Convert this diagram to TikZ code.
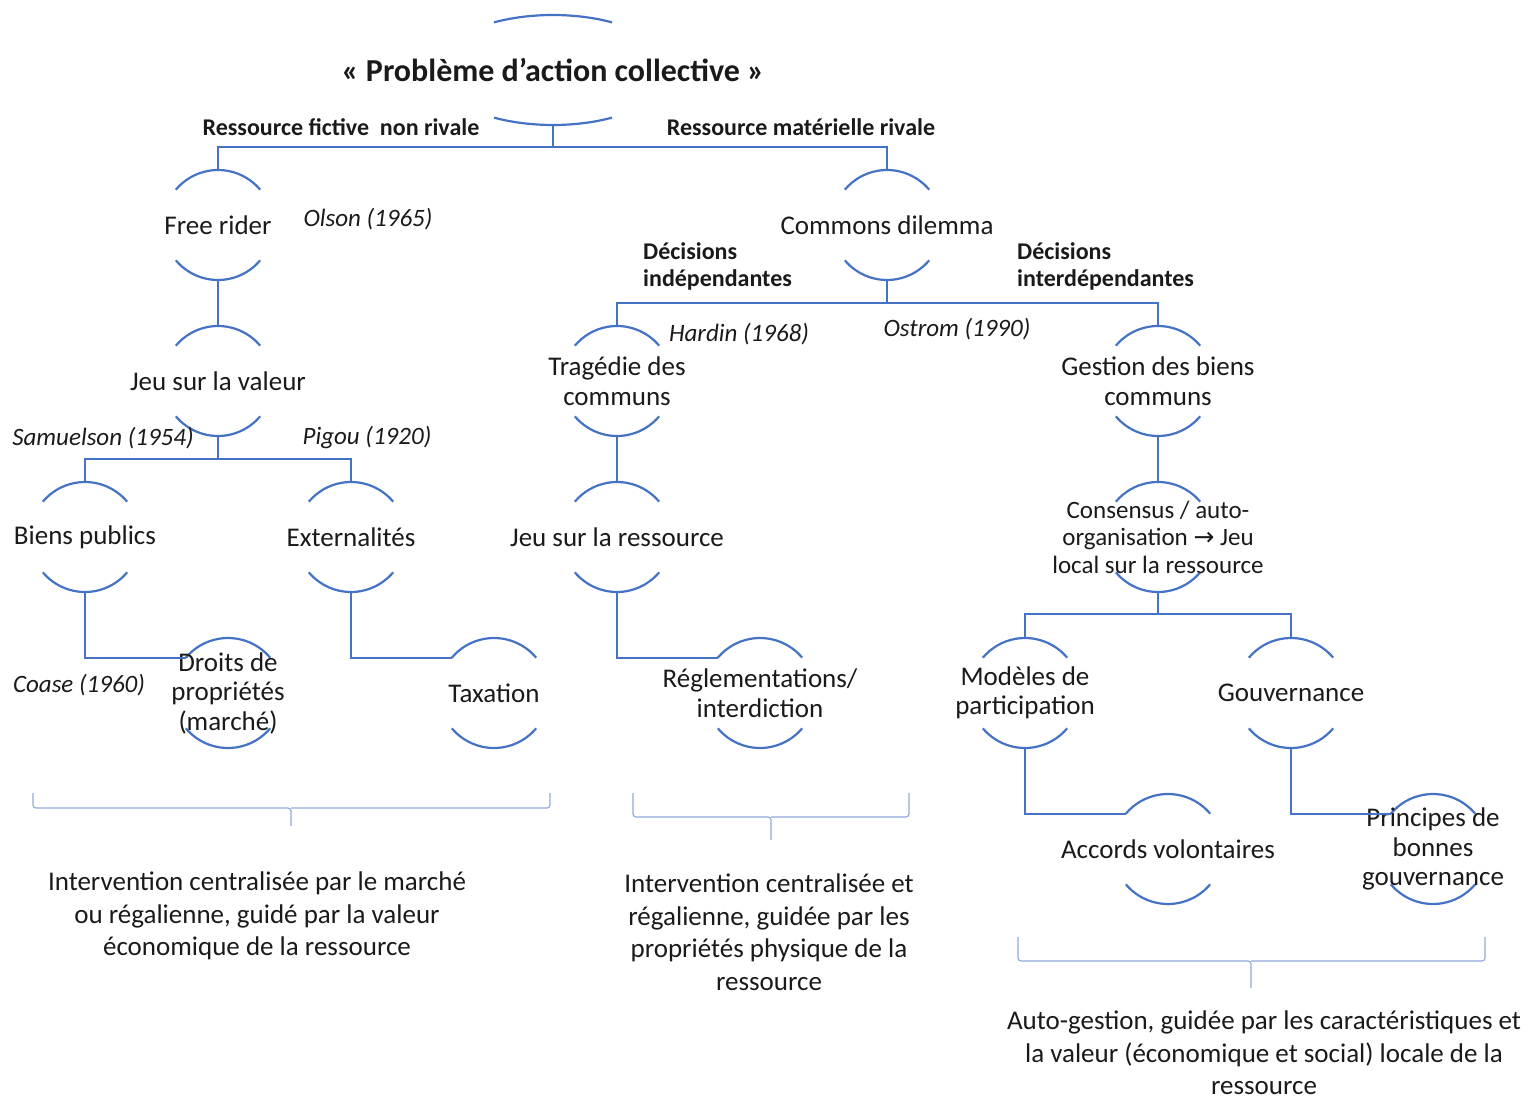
\documentclass[tikz,border=0pt]{standalone}
\usepackage{fontspec}
\setmainfont{Carlito}
\newfontfamily\arrowfont{DejaVu Sans}
\definecolor{lineblue}{HTML}{4472C4}
\definecolor{braceblue}{HTML}{8FAADC}
\definecolor{ink}{HTML}{1A1A1A}
\tikzset{
  link/.style={draw=lineblue, line width=2.2pt},
  brace/.style={draw=braceblue, line width=1.2pt, rounded corners=3pt},
  stage/.style={font=\fontsize{27}{29.5}\selectfont, text=ink, align=center,
    inner sep=0pt, minimum height=110pt,
    append after command={\pgfextra{\draw[link]
      ([shift={(40:55pt)}]\tikzlastnode.center) arc[start angle=40, end angle=140, radius=55pt]
      ([shift={(220:55pt)}]\tikzlastnode.center) arc[start angle=220, end angle=320, radius=55pt];}}},
  problem/.style={font=\fontsize{32}{36}\selectfont\bfseries, text=ink, align=center,
    inner sep=0pt, minimum height=110pt,
    append after command={\pgfextra{\draw[link]
      ([shift={(60:118pt and 55pt)}]\tikzlastnode.center) arc[start angle=60, end angle=120, x radius=118pt, y radius=55pt]
      ([shift={(240:118pt and 55pt)}]\tikzlastnode.center) arc[start angle=240, end angle=300, x radius=118pt, y radius=55pt];}}},
  branch/.style={font=\fontsize{24}{27}\selectfont\bfseries, text=ink, inner sep=0pt},
  author/.style={font=\fontsize{25}{30}\selectfont\itshape, text=ink, inner sep=0pt},
  summary/.style={font=\fontsize{27}{32.5}\selectfont, text=ink, align=center, inner sep=0pt}
}
\begin{document}
\begin{tikzpicture}[x=1pt,y=1pt]
  \useasboundingbox (0,0) rectangle (1530,-1100);
  % Nodes: problem and dilemmas
  \node[problem] (P) at (553,-70) {« Problème d’action collective »};
  \node[stage] (FR) at (218,-225) {Free rider};
  \node[stage] (CD) at (887,-225) {Commons dilemma};
  \node[stage] (JV) at (218,-381) {Jeu sur la valeur};
  \node[stage] (TC) at (617,-381) {Tragédie des\\communs};
  \node[stage] (GB) at (1158,-381) {Gestion des biens\\communs};
  % Nodes: responses
  \node[stage] (BP) at (85,-537) {Biens publics};
  \node[stage] (EX) at (351,-537) {Externalités};
  \node[stage] (JR) at (617,-537) {Jeu sur la ressource};
  \node[stage, font=\fontsize{25}{27.5}\selectfont] (CO) at (1158,-537) {Consensus / auto-\\organisation {\arrowfont →} Jeu\\local sur la ressource};
  \node[stage] (DP) at (228,-693) {Droits de\\propriétés\\(marché)};
  \node[stage] (TX) at (494,-693) {Taxation};
  \node[stage] (RI) at (760,-693) {Réglementations/\\interdiction};
  \node[stage] (MP) at (1025,-693) {Modèles de\\participation};
  \node[stage] (GV) at (1291,-693) {Gouvernance};
  \node[stage] (AV) at (1168,-849) {Accords volontaires};
  \node[stage] (PG) at (1433,-849) {Principes de\\bonnes\\gouvernance};
  % Labels: branches and authors
  \node[branch] (RF) at (341,-127) {Ressource fictive~ non rivale};
  \node[branch] (RM) at (801,-127) {Ressource matérielle rivale};
  \node[branch, anchor=west, align=left] (DI) at (643,-266) {Décisions\\indépendantes};
  \node[branch, anchor=west, align=left] (DD) at (1017,-266) {Décisions\\interdépendantes};
  \node[author] (OL) at (368,-219) {Olson (1965)};
  \node[author] (HA) at (739,-334) {Hardin (1968)};
  \node[author] (OS) at (957,-329) {Ostrom (1990)};
  \node[author] (SA) at (103,-438) {Samuelson (1954)};
  \node[author] (PI) at (367,-438) {Pigou (1920)};
  \node[author] (CS) at (79,-685) {Coase (1960)};
  % Lines: level 1 to 2
  \draw[link] (P.south) -- ++(0,-22) -| (FR.north);
  \draw[link] (P.south) -- ++(0,-22) -| (CD.north);
  \draw[link] (FR.south) -- (JV.north);
  \draw[link] (CD.south) -- ++(0,-23) -| (TC.north);
  \draw[link] (CD.south) -- ++(0,-23) -| (GB.north);
  % Lines: level 2 to 3
  \draw[link] (JV.south) -- ++(0,-23) -| (BP.north);
  \draw[link] (JV.south) -- ++(0,-23) -| (EX.north);
  \draw[link] (TC.south) -- (JR.north);
  \draw[link] (GB.south) -- (CO.north);
  \draw[link] (CO.south) -- ++(0,-22) -| (MP.north);
  \draw[link] (CO.south) -- ++(0,-22) -| (GV.north);
  % Lines: level 3 to 4
  \draw[link] (BP.south) |- ([shift={(140:55pt)}]DP.center);
  \draw[link] (EX.south) |- ([shift={(140:55pt)}]TX.center);
  \draw[link] (JR.south) |- ([shift={(140:55pt)}]RI.center);
  \draw[link] (MP.south) |- ([shift={(140:55pt)}]AV.center);
  \draw[link] (GV.south) |- ([shift={(140:55pt)}]PG.center);
  % Braces and summaries
  \draw[brace] (33,-793) |- (291,-808) -- (291,-826);
  \draw[brace] (550,-793) |- (291,-808);
  \draw[brace] (633,-793) |- (771,-817) -- (771,-840);
  \draw[brace] (909,-793) |- (771,-817);
  \draw[brace] (1018,-937) |- (1251,-961) -- (1251,-988);
  \draw[brace] (1485,-937) |- (1251,-961);
  \node[summary] (S1) at (257,-916) {Intervention centralisée par le marché\\ou régalienne, guidé par la valeur\\économique de la ressource};
  \node[summary] (S2) at (769,-932) {Intervention centralisée et\\régalienne, guidée par les\\propriétés physique de la\\ressource};
  \node[summary] (S3) at (1264,-1053) {Auto-gestion, guidée par les caractéristiques et\\la valeur (économique et social) locale de la\\ressource};
\end{tikzpicture}
\end{document}
